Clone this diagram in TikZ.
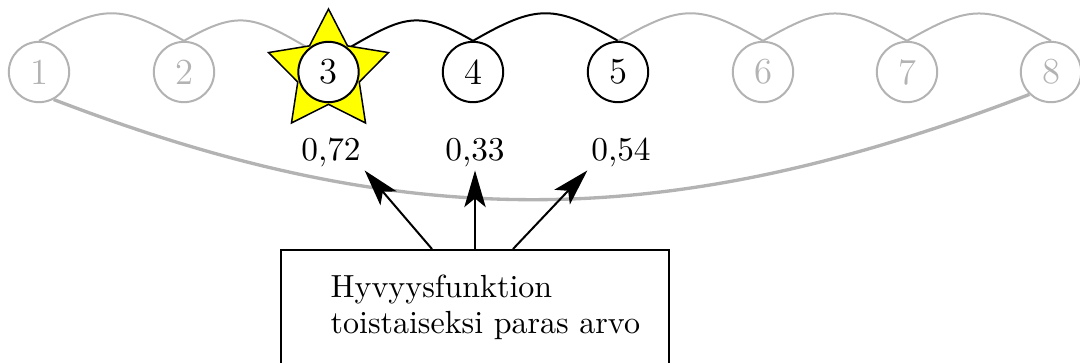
\documentclass[tikz,border=0pt]{standalone}
\usetikzlibrary{shapes.geometric,arrows.meta,backgrounds}
\definecolor{faded}{RGB}{179,179,179}
\definecolor{starfill}{RGB}{255,255,0}
\tikzset{
  vertex/.style={circle,draw,line width=0.6pt,minimum size=18.1pt,inner sep=0pt,
    font=\fontsize{11}{13}\selectfont,fill=white},
  active/.style={vertex,draw=black,text=black},
  inactive/.style={vertex,draw=faded,text=faded},
  hop/.style={line width=0.6pt,looseness=1.3},
  value/.style={inner sep=1pt,anchor=base,font=\fontsize{10}{12}\selectfont},
  pointer/.style={line width=0.6pt,-{Stealth[length=11pt,width=6.4pt,inset=2.6pt]}},
  beststar/.style={star,star points=5,star point ratio=1.95,minimum size=37.8pt,
    inner sep=0pt,draw,fill=starfill,line width=0.45pt},
  infobox/.style={draw,line width=0.5pt,minimum width=116.4pt,minimum height=60pt,
    anchor=north,inner sep=0pt},
  infotext/.style={align=left,anchor=base west,inner sep=0pt,
    font=\fontsize{9.6}{10.8}\selectfont},
}
\begin{document}
\begin{tikzpicture}[x=0.3pt,y=0.3pt]
\useasboundingbox (0,0) rectangle (1080,362);
\clip (0,0) rectangle (1080,362);

% ring of candidates
\node[inactive] (n1) at (39,290) {1};
\node[inactive] (n2) at (184,290) {2};
\node[beststar] (best) at (328.5,290) {};
\node[active]   (n3) at (328.5,290) {3};
\node[active]   (n4) at (473,290) {4};
\node[active]   (n5) at (618,290) {5};
\node[inactive] (n6) at (763,290) {6};
\node[inactive] (n7) at (907,290) {7};
\node[inactive] (n8) at (1051,290) {8};

% neighbourhood links, kept behind the nodes
\begin{pgfonlayer}{background}
  \draw[hop,faded] (n1.north) to[out=30,in=150] (n2.north);
  \draw[hop,faded] (n2.north) to[out=30,in=150] (n3.130);
  \draw[hop,black] (n3.50) to[out=30,in=150] (n4.north);
  \draw[hop,black] (n4.north) to[out=30,in=150] (n5.north);
  \draw[hop,faded] (n5.north) to[out=30,in=150] (n6.north);
  \draw[hop,faded] (n6.north) to[out=30,in=150] (n7.north);
  \draw[hop,faded] (n7.north) to[out=30,in=150] (n8.north);
  \draw[faded,line width=1pt] (n1.-62) to[out=-21,in=201] (n8.-134);
\end{pgfonlayer}

% fitness values of the current neighbourhood
\node[value] (v3) at (331,202) {0,72};
\node[value] (v4) at (475,202) {0,33};
\node[value] (v5) at (621,202) {0,54};

% best-so-far box
\node[infobox] (box) at (475,113) {};
\node[infotext] (boxtext) at (330,29) {Hyvyysfunktion\\toistaiseksi paras arvo};

\draw[pointer] ([xshift=-12.9pt]box.north) -- (v3.south east);
\draw[pointer] (box.north) -- (v4.south);
\draw[pointer] ([xshift=11.4pt]box.north) -- (v5.south west);
\end{tikzpicture}
\end{document}
